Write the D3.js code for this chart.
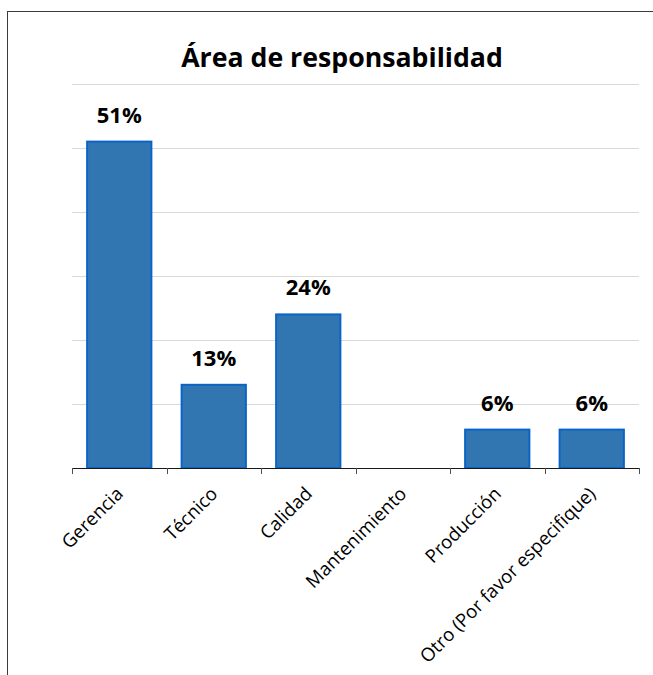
<!DOCTYPE html>
<html>
<head>
<meta charset="utf-8">
<script src="https://cdn.jsdelivr.net/npm/d3@7"></script>
<style>
  html, body { margin: 0; padding: 0; background: #fff; }
  svg { display: block; }
</style>
</head>
<body>
<svg id="chart" width="653" height="675"></svg>
<script>
// Chart data
const title = "Área de responsabilidad";
const categories = ["Gerencia", "Técnico", "Calidad", "Mantenimiento", "Producción", "Otro (Por favor especifique)"];
const values = [51, 13, 24, 0, 6, 6];
const gridTicks = [0, 10, 20, 30, 40, 50, 60];

const svg = d3.select("#chart");

// Frame of the chart object (its right and bottom edges fall outside the view)
svg.append("rect")
  .attr("x", 7.5).attr("y", 11.5)
  .attr("width", 700).attr("height", 700)
  .attr("fill", "#fff")
  .attr("stroke", "#3a3a3a")
  .attr("stroke-width", 1);

const plot = { left: 72, right: 639, top: 84, bottom: 468 };

const x = d3.scaleBand()
  .domain(categories)
  .range([plot.left, plot.right])
  .paddingInner(0.32)
  .paddingOuter(0.16);

const y = d3.scaleLinear()
  .domain([0, 60])
  .range([plot.bottom, plot.top]);

// Horizontal gridlines
svg.append("g")
  .selectAll("line")
  .data(gridTicks.filter(d => d > 0))
  .join("line")
  .attr("x1", plot.left).attr("x2", plot.right)
  .attr("y1", d => Math.round(y(d)) + 0.5)
  .attr("y2", d => Math.round(y(d)) + 0.5)
  .attr("stroke", "#d9d9d9")
  .attr("stroke-width", 1);

// Bars
svg.append("g")
  .selectAll("rect")
  .data(categories.map((c, i) => ({ c, v: values[i] })).filter(d => d.v > 0))
  .join("rect")
  .attr("x", d => x(d.c))
  .attr("y", d => y(d.v))
  .attr("width", x.bandwidth())
  .attr("height", d => y(0) - y(d.v))
  .attr("fill", "#3176b0")
  .attr("stroke", "#0a64c8")
  .attr("stroke-width", 2);

// Category axis: baseline with ticks at band boundaries
const boundaries = d3.range(categories.length + 1).map(i => plot.left + i * (plot.right - plot.left) / categories.length);
const axis = svg.append("g");
axis.append("line")
  .attr("x1", plot.left).attr("x2", plot.right)
  .attr("y1", plot.bottom + 0.5).attr("y2", plot.bottom + 0.5)
  .attr("stroke", "#1a1a1a").attr("stroke-width", 1);
axis.selectAll("line.tick")
  .data(boundaries)
  .join("line")
  .attr("class", "tick")
  .attr("x1", d => Math.round(d) + 0.5).attr("x2", d => Math.round(d) + 0.5)
  .attr("y1", plot.bottom).attr("y2", plot.bottom + 6)
  .attr("stroke", "#4d4d4d").attr("stroke-width", 1);

// Rotated category labels
axis.selectAll("text")
  .data(categories)
  .join("text")
  .attr("transform", d => `translate(${x(d) + x.bandwidth() / 2 + 5},${plot.bottom + 27}) rotate(-45)`)
  .attr("text-anchor", "end")
  .attr("font-family", "'Open Sans', sans-serif")
  .attr("font-size", 18.6)
  .attr("fill", "#000")
  .text(d => d);

// Value labels above bars
svg.append("g")
  .selectAll("text")
  .data(categories.map((c, i) => ({ c, v: values[i] })).filter(d => d.v > 0))
  .join("text")
  .attr("x", d => x(d.c) + x.bandwidth() / 2)
  .attr("y", d => y(d.v) - 19)
  .attr("text-anchor", "middle")
  .attr("font-family", "'Open Sans', sans-serif")
  .attr("font-weight", "bold")
  .attr("font-size", 22)
  .attr("fill", "#000")
  .text(d => d.v + "%");

// Title
svg.append("text")
  .attr("x", 342)
  .attr("y", 67)
  .attr("text-anchor", "middle")
  .attr("font-family", "'Open Sans', sans-serif")
  .attr("font-weight", "bold")
  .attr("font-size", 26.7)
  .attr("fill", "#000")
  .text(title);
</script>
</body>
</html>
